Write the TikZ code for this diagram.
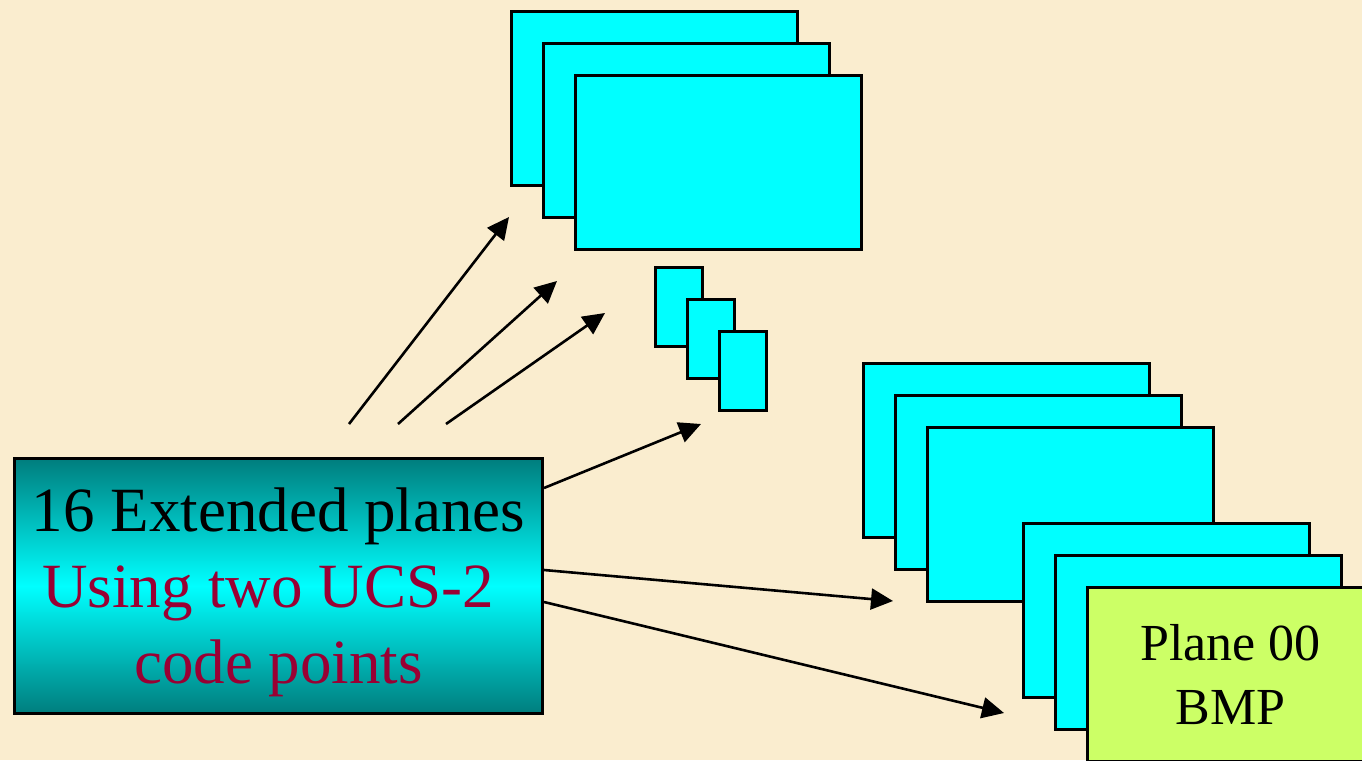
\documentclass[tikz,border=0pt]{standalone}
\usepackage{fontspec}
\setmainfont{Liberation Serif}
\usetikzlibrary{arrows.meta}
\definecolor{bg}{RGB}{250,237,207}
\definecolor{cyanfill}{RGB}{0,255,255}
\definecolor{tealdark}{RGB}{0,125,125}
\definecolor{limefill}{RGB}{204,255,102}
\definecolor{wine}{RGB}{153,0,51}
\tikzset{
  plane/.style={draw=black, line width=3pt, fill=cyanfill, anchor=north west,
    inner sep=0pt, minimum width=286pt, minimum height=174pt},
  small/.style={plane, minimum width=47pt, minimum height=79pt},
  arr/.style={line width=2.6pt, -{Triangle[length=22pt,width=21pt]}},
}
\begin{document}
\begin{tikzpicture}[x=1pt,y=-1pt]
\useasboundingbox (0,0) rectangle (1362,760);
\clip (0,0) rectangle (1362,760);
\fill[bg] (0,0) rectangle (1362,760);
% top stack
\node[plane] (t1) at (510,10) {};
\node[plane] (t2) at (542,42) {};
\node[plane] (t3) at (574,74) {};
% small stack
\node[small] (s1) at (654,266) {};
\node[small] (s2) at (686,298) {};
\node[small] (s3) at (718,330) {};
% right stack
\node[plane] (r1) at (862,362) {};
\node[plane] (r2) at (894,394) {};
\node[plane] (r3) at (926,426) {};
\node[plane] (b1) at (1022,522) {};
\node[plane] (b2) at (1054,554) {};
\node[plane, fill=limefill, font=\fontsize{52}{64}\selectfont, align=center] (bmp) at (1086,586) {Plane 00\\BMP};
% main box
\node[draw=black, line width=3pt, anchor=north west, inner sep=0pt,
  minimum width=528pt, minimum height=255pt,
  top color=tealdark, bottom color=tealdark, middle color=cyanfill,
  align=center, font=\fontsize{63}{76}\selectfont] (ext) at (13,457)
  {\rule{0pt}{56pt}16 Extended planes\\\textcolor{wine}{Using two UCS-2\,\,}\\\textcolor{wine}{code points}};
% arrows
\coordinate (a1s) at (349,424);
\coordinate (a2s) at (398,424);
\coordinate (a3s) at (446,424);
\coordinate (a1e) at (509,217);
\coordinate (a2e) at (557,281);
\coordinate (a3e) at (605,313);
\coordinate (a4e) at (701,424);
\coordinate (a5e) at (893,601);
\coordinate (a6e) at (1004,713);
\draw[arr] (a1s) -- (a1e);
\draw[arr] (a2s) -- (a2e);
\draw[arr] (a3s) -- (a3e);
\draw[arr] (ext.north east |- 0,488) -- (a4e);
\draw[arr] (ext.north east |- 0,570) -- (a5e);
\draw[arr] (ext.north east |- 0,602) -- (a6e);
\end{tikzpicture}
\end{document}
